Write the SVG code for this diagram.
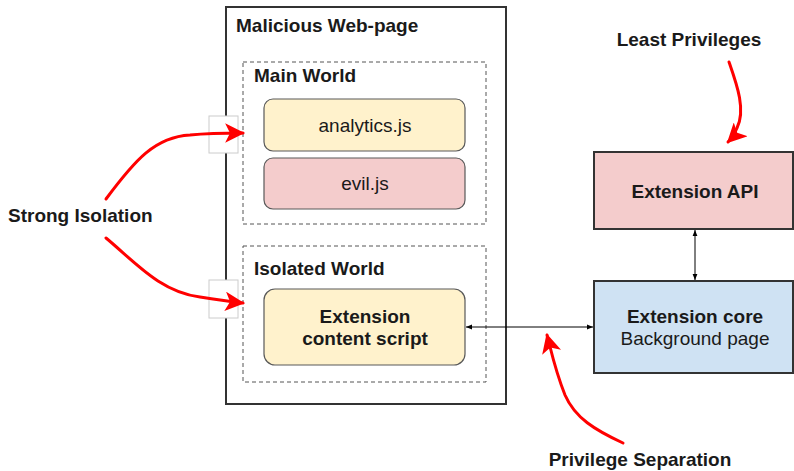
<svg xmlns="http://www.w3.org/2000/svg" width="794" height="471" viewBox="0 0 794 471">
<defs>
<style>
text{font-family:"Liberation Sans",Arial,sans-serif;fill:#1a1a1a}
.b{font-weight:bold;font-size:19px}
.n{font-size:19px}
.c{text-anchor:middle}
.dash{fill:none;stroke:#555;stroke-width:1;stroke-dasharray:4 3}
.red{fill:none;stroke:#ff0000;stroke-width:3;stroke-linecap:round}
.thin{fill:none;stroke:#000;stroke-width:1}
</style>
<marker id="ra" viewBox="0 0 12 12" refX="11" refY="6" markerWidth="6.5" markerHeight="6.5" orient="auto" markerUnits="strokeWidth">
<path d="M0,0 L12,6 L0,12 L3,6 Z" fill="#ff0000"/>
</marker>
<marker id="ka" viewBox="0 0 10 10" refX="10" refY="5" markerWidth="6" markerHeight="6" orient="auto-start-reverse" markerUnits="userSpaceOnUse">
<path d="M0,1 L10,5 L0,9 Z" fill="#000"/>
</marker>
</defs>

<g id="webpage">
<rect x="226" y="7" width="280" height="397" fill="#fff" stroke="#333" stroke-width="2"/>
<text class="b" x="236" y="32">Malicious Web-page</text>
</g>

<g id="main-world">
<rect class="dash" x="243" y="62" width="243" height="162"/>
<text class="b" x="254" y="82">Main World</text>
</g>

<g id="analytics">
<rect x="264" y="99" width="201" height="52" rx="9" fill="#fff2cc" stroke="#595959" stroke-width="1.2"/>
<text class="n c" x="365" y="132">analytics.js</text>
</g>

<g id="evil">
<rect x="264" y="158" width="201" height="51" rx="9" fill="#f4cccc" stroke="#595959" stroke-width="1.2"/>
<text class="n c" x="365" y="190">evil.js</text>
</g>

<g id="isolated-world">
<rect class="dash" x="243" y="246" width="243" height="136"/>
<text class="b" x="254" y="275">Isolated World</text>
</g>

<g id="content-script">
<rect x="264" y="289" width="201" height="76" rx="11" fill="#fff2cc" stroke="#595959" stroke-width="1.2"/>
<text class="b c" x="365" y="323">Extension</text>
<text class="b c" x="365" y="345">content script</text>
</g>

<g id="extension-api">
<rect x="594" y="152" width="199" height="77" fill="#f4cccc" stroke="#333" stroke-width="2"/>
<text class="b c" x="695" y="198">Extension API</text>
</g>

<g id="extension-core">
<rect x="594" y="281" width="199" height="92" fill="#cfe2f3" stroke="#333" stroke-width="2"/>
<text class="b c" x="695" y="323">Extension core</text>
<text class="n c" x="695" y="345">Background page</text>
</g>

<g id="gates">
<rect x="209" y="116" width="29" height="37" fill="#fff" stroke="#ccc" stroke-width="1"/>
<rect x="209" y="280" width="29" height="38" fill="#fff" stroke="#ccc" stroke-width="1"/>
</g>

<g id="labels">
<text class="b" x="8" y="222">Strong Isolation</text>
<text class="b c" x="689" y="46">Least Privileges</text>
<text class="b c" x="640" y="466">Privilege Separation</text>
</g>

<g id="connectors">
<line class="thin" x1="466" y1="327" x2="593" y2="327" marker-start="url(#ka)" marker-end="url(#ka)"/>
<line class="thin" x1="695" y1="230" x2="695" y2="280" marker-start="url(#ka)" marker-end="url(#ka)"/>
<path class="red" d="M106,199 C135,160 155,137 190,135 C210,133 225,133 243,133" marker-end="url(#ra)"/>
<path class="red" d="M106,238 C135,262 160,292 200,297 C220,300 232,302 243,303" marker-end="url(#ra)"/>
<path class="red" d="M729,62 C737,85 746,110 737,128 C734,135 731,139 728,142" marker-end="url(#ra)"/>
<path class="red" d="M623,443 C595,430 575,418 565,395 C555,370 551,350 547,335" marker-end="url(#ra)"/>
</g>
</svg>
